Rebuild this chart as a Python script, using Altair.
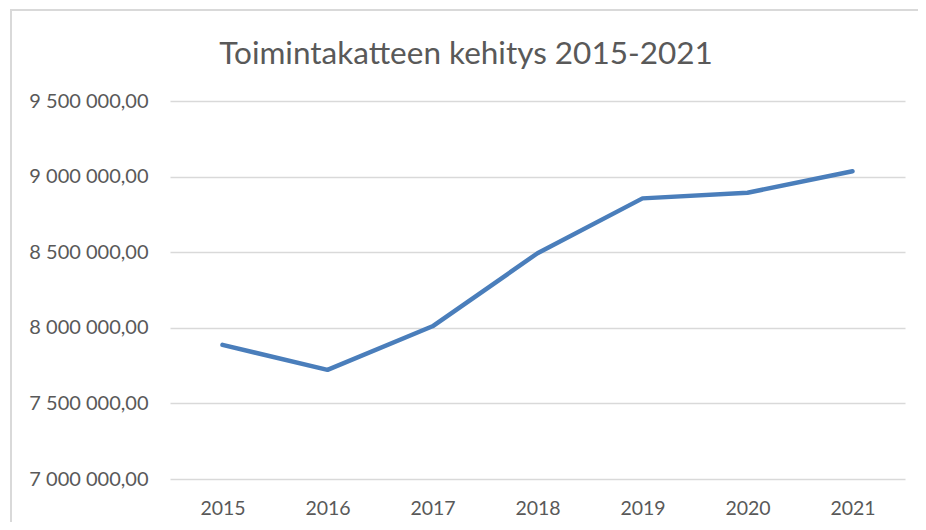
import altair as alt
import pandas as pd

years = ["2015", "2016", "2017", "2018", "2019", "2020", "2021"]
values = [7887000, 7722000, 8010000, 8493000, 8856000, 8893000, 9035000]
y_ticks = [7000000, 7500000, 8000000, 8500000, 9000000, 9500000]
title_text = "Toimintakatteen kehitys 2015-2021"

df = pd.DataFrame({"Vuosi": years, "Toimintakate": values})
title_df = pd.DataFrame({"t": [title_text]})

FONT = "Lato"
W, H = 735, 378

line = alt.Chart(df).mark_line(color="#4a7ebb", strokeWidth=4.5, strokeCap="round", strokeJoin="round").encode(
    x=alt.X("Vuosi:N", sort=years,
            scale=alt.Scale(type="point", padding=0.5),
            axis=alt.Axis(title=None, labelAngle=0, domain=False, ticks=False, grid=False,
                          labelBaseline="alphabetic", labelPadding=35,
                          labelFontSize=19.5, labelColor="#595959", labelFont=FONT)),
    y=alt.Y("Toimintakate:Q",
            scale=alt.Scale(domain=[7000000, 9500000], nice=False, zero=False),
            axis=alt.Axis(title=None, values=y_ticks, domain=False, ticks=False,
                          gridColor="#d9d9d9", gridWidth=1.5, labelPadding=22,
                          labelFontSize=20, labelColor="#595959", labelFont=FONT,
                          labelExpr="replace(replace(format(datum.value, ',.2f'), regexp(',', 'g'), ' '), '.', ',')")),
)

title = alt.Chart(title_df).mark_text(font=FONT, fontSize=31.5, color="#595959",
                                      align="center", baseline="alphabetic").encode(
    text="t:N", x=alt.value(296), y=alt.value(-37))

border = alt.Chart(title_df).mark_rect(fill="transparent", stroke="#d9d9d9", strokeWidth=2).encode(
    x=alt.value(-159), x2=alt.value(W + 200), y=alt.value(-91), y2=alt.value(H + 200))

chart = alt.layer(border, title, line).properties(
    width=W, height=H,
    autosize="none",
    padding={"left": 162, "top": 93, "right": 13, "bottom": 43},
).configure_view(stroke=None)

chart.save("out.html", embed_options={"renderer": "svg", "actions": False})
